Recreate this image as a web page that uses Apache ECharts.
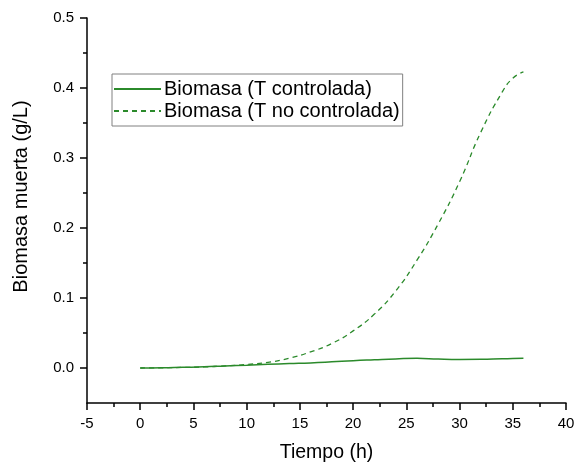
<!DOCTYPE html>
<html>
<head>
<meta charset="utf-8">
<script src="https://cdn.jsdelivr.net/npm/echarts@6/dist/echarts.min.js"></script>
<style>html,body{margin:0;padding:0;background:#fff}#c{width:584px;height:468px}</style>
</head>
<body>
<div id="c"></div>
<script>
var hours = [0,2,4,6,8,10,12,14,16,18,20,22,24,26,28,30,32,34,35,36];
var controlada = [0,0.0003,0.001,0.0017,0.003,0.004,0.0052,0.0063,0.0073,0.0088,0.0105,0.0118,0.013,0.0138,0.0128,0.0123,0.0125,0.0132,0.0135,0.0138];
var noControlada = [0,0.0003,0.0008,0.0015,0.003,0.005,0.008,0.014,0.023,0.035,0.053,0.077,0.110,0.154,0.206,0.266,0.337,0.394,0.414,0.423];
var yMajor = [0,0.1,0.2,0.3,0.4,0.5];
var yMinor = [0.05,0.15,0.25,0.35,0.45];
var names = ['Biomasa (T controlada)','Biomasa (T no controlada)'];

var green = '#2b8a2b';
var font = 'Liberation Sans, Arial, sans-serif';
function pairs(xs, ys){ return xs.map(function(x,i){return [x, ys[i]];}); }

var chart = echarts.init(document.getElementById('c'), null, {renderer:'canvas'});
chart.setOption({
  animation:false,
  backgroundColor:'#fff',
  grid:{left:87,right:18,top:18,bottom:65,containLabel:false},
  legend:{
    left:112, top:74, orient:'vertical',
    data:names,
    itemWidth:47, itemHeight:14, itemGap:2,
    padding:[5,3,5,1],
    borderColor:'#808080', borderWidth:1,
    itemStyle:{opacity:0},
    textStyle:{fontFamily:font,fontSize:20,lineHeight:20,color:'#000',padding:[0,0,0,-2]}
  },
  xAxis:{
    type:'value', min:-5, max:40, interval:5,
    name:'Tiempo (h)', nameLocation:'middle', nameGap:40,
    nameTextStyle:{fontFamily:font,fontSize:19.5,color:'#000'},
    axisLine:{show:true,onZero:false,lineStyle:{color:'#000',width:1.5}},
    axisTick:{show:true,length:7,lineStyle:{color:'#000',width:1.5}},
    minorTick:{show:true,splitNumber:2,length:4,lineStyle:{color:'#000',width:1.5}},
    axisLabel:{fontFamily:font,fontSize:15,color:'#000',margin:13},
    splitLine:{show:false}
  },
  yAxis:[{
    type:'value', min:-0.05, max:0.5, interval:0.05,
    name:'Biomasa muerta (g/L)', nameLocation:'middle', nameGap:56,
    nameTextStyle:{fontFamily:font,fontSize:20,color:'#000',padding:[0,0,0,28]},
    axisLine:{show:true,onZero:false,lineStyle:{color:'#000',width:1.5}},
    axisTick:{show:true,length:7,customValues:yMajor,lineStyle:{color:'#000',width:1.5}},
    axisLabel:{fontFamily:font,fontSize:15,color:'#000',margin:13,customValues:yMajor,
      formatter:function(v){return v.toFixed(1);}},
    splitLine:{show:false}
  },{
    type:'value', min:-0.05, max:0.5, interval:0.05, position:'left',
    axisLine:{show:false,onZero:false},
    axisTick:{show:true,length:4,customValues:yMinor,lineStyle:{color:'#000',width:1.5}},
    axisLabel:{show:false},
    splitLine:{show:false}
  }],
  series:[{
    name:names[0], type:'line', symbol:'none', smooth:0.5,
    data:pairs(hours, controlada),
    lineStyle:{color:green,width:1.5,type:'solid'},
    itemStyle:{color:green}
  },{
    name:names[1], type:'line', symbol:'none', smooth:0.5,
    data:pairs(hours, noControlada),
    lineStyle:{color:green,width:1.3,type:[5,4]},
    itemStyle:{color:green}
  }]
});
</script>
</body>
</html>
